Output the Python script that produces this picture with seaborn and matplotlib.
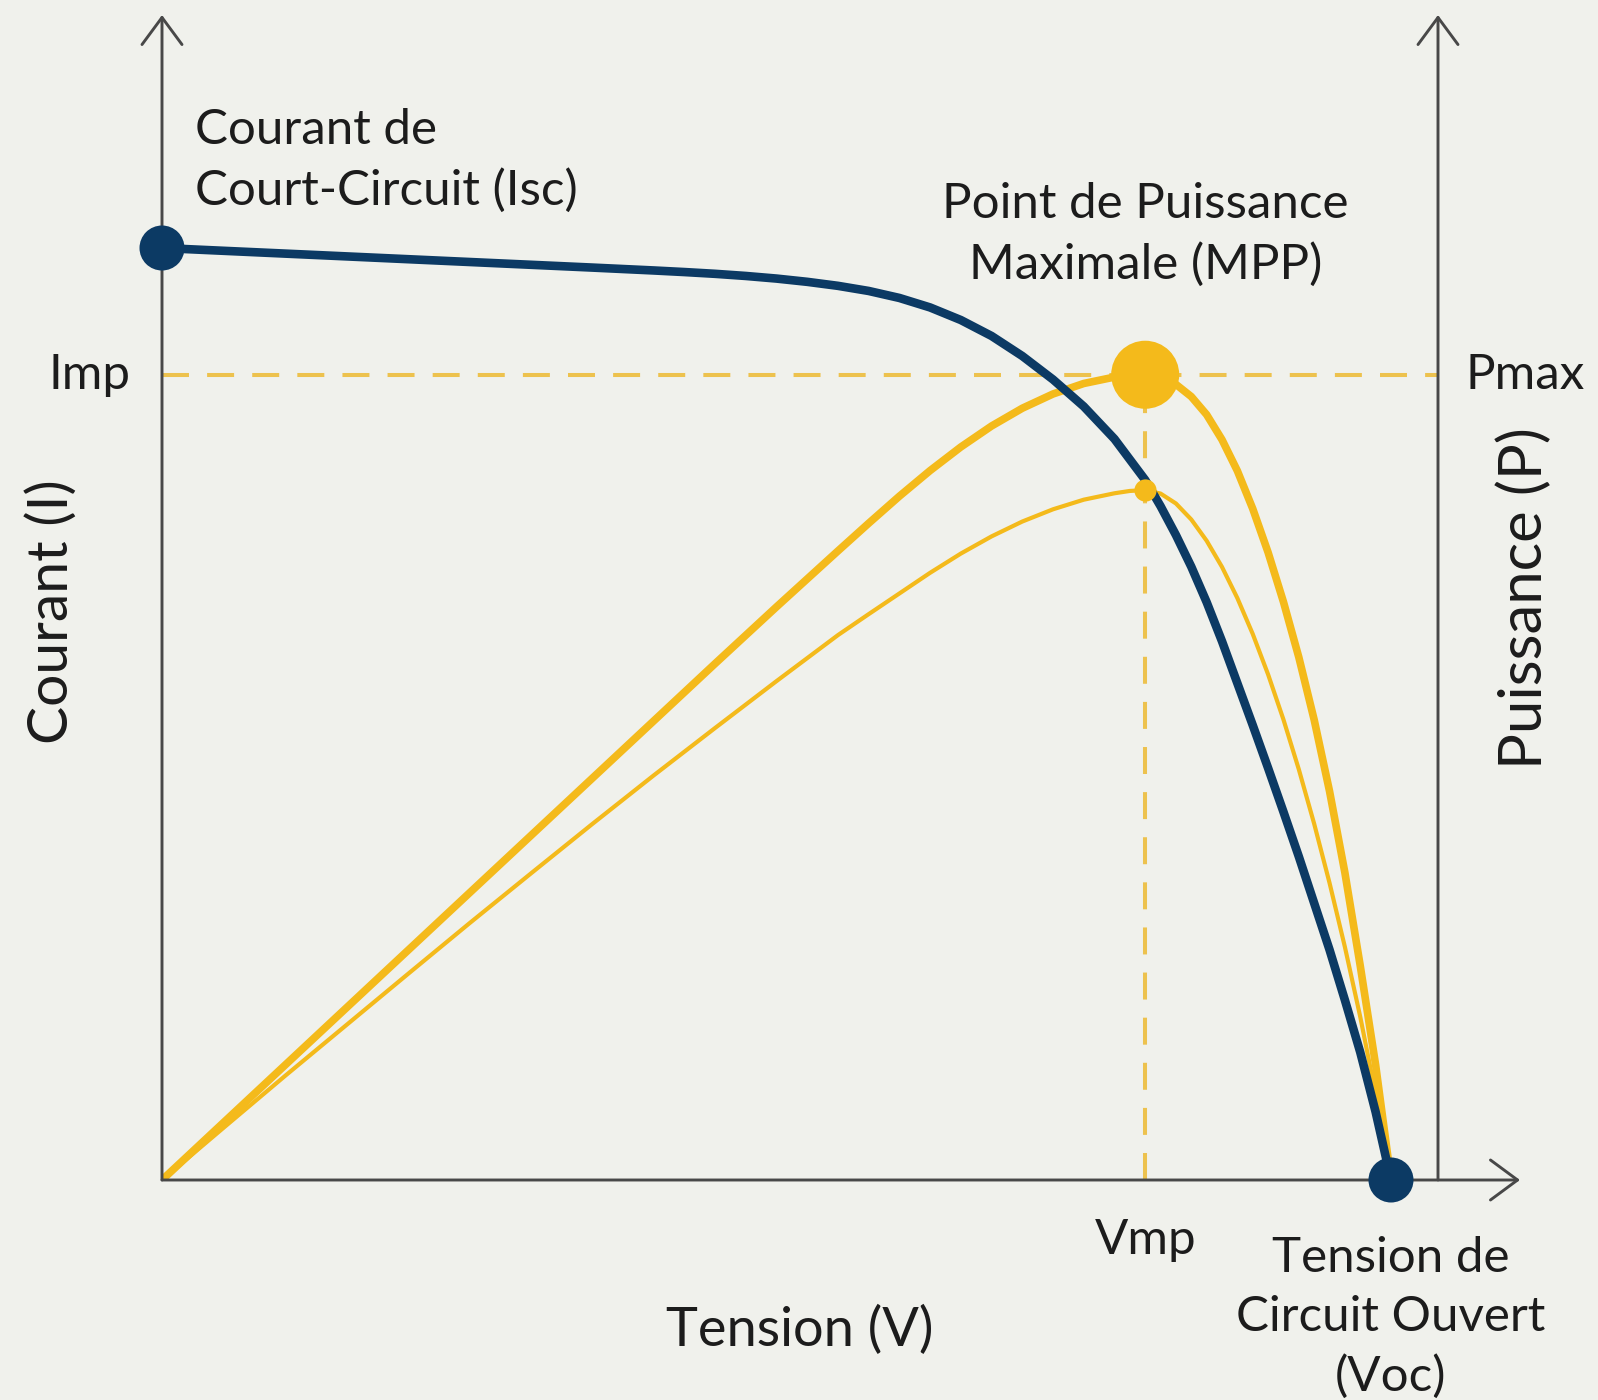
import numpy as np
import pandas as pd
import matplotlib
matplotlib.use("Agg")
import matplotlib.pyplot as plt
import seaborn as sns

# ---------------- data ----------------
# I-V curve (tension in V, courant in A)
tension_iv = [0, 2, 4, 6, 8, 10, 12, 14, 16, 17, 18, 19, 20, 21, 22, 23, 24, 25,
              26, 27, 28, 29, 30, 31, 32, 32.5, 33, 33.5, 34, 34.5, 35, 35.5, 36,
              36.5, 37, 37.5, 38, 38.5, 39, 39.5, 40]
courant_iv = [10.000, 9.970, 9.940, 9.910, 9.880, 9.850, 9.820, 9.790, 9.759,
              9.742, 9.723, 9.700, 9.672, 9.637, 9.594, 9.539, 9.464, 9.362,
              9.227, 9.056, 8.841, 8.589, 8.300, 7.951, 7.511, 7.230, 6.920,
              6.580, 6.200, 5.780, 5.330, 4.880, 4.420, 3.950, 3.470, 2.970,
              2.470, 1.930, 1.370, 0.730, 0.000]

# P-V curve, main (thick), puissance in W
tension_p = [0, 2, 4, 6, 8, 10, 12, 14, 16, 18, 20, 22, 23, 24, 25, 26, 27, 28,
             29, 30, 31, 31.5, 32, 32.5, 33, 33.5, 34, 34.5, 35, 35.5, 36, 36.5,
             37, 37.5, 38, 38.5, 39, 39.5, 40]
puissance_p = [0.0, 19.7, 39.4, 59.1, 78.8, 98.5, 118.2, 137.9, 157.6, 177.3,
               196.8, 216.0, 225.5, 234.8, 243.6, 251.7, 258.9, 265.0, 269.9,
               273.5, 275.7, 276.3, 276.5, 275.6, 273.2, 269.0, 262.8, 254.2,
               243.5, 230.5, 215.5, 198.5, 179.5, 158.0, 133.5, 105.5, 73.5,
               39.5, 0.0]

# P-V curve, secondary (thin)
tension_p2 = [0, 2, 4, 6, 8, 10, 12, 14, 16, 18, 20, 22, 23, 24, 25, 26, 27, 28,
              29, 30, 31, 31.5, 32, 32.5, 33, 33.5, 34, 34.5, 35, 35.5, 36, 36.5,
              37, 37.5, 38, 38.5, 39, 39.5, 40]
puissance_p2 = [0.0, 17.9, 35.7, 53.2, 70.7, 88.1, 105.2, 122.2, 138.9, 155.2,
                171.3, 187.1, 194.3, 201.4, 208.5, 215.1, 221.0, 226.1, 230.3,
                233.6, 235.8, 236.6, 236.9, 235.7, 232.3, 226.8, 219.5, 210.5,
                199.8, 187.5, 173.6, 158.1, 141.0, 122.3, 102.0, 80.0, 56.0,
                29.5, 0.0]

Isc = 10.0
Voc = 40.0
Vmp = 32.0
Imp = 8.64
Pmax = 276.5
P2_peak = 236.9

courant_max_axe = 12.5
tension_max_axe = 41.53

# ---------------- style ----------------
BG = "#F0F1EC"
NAVY = "#0C3A64"
YELLOW = "#F4BA1B"
YELLOW_DASH = "#EDC24E"
AXIS = "#484848"
TXT = "#1C1C1C"

sns.set_theme(style="white")
plt.rcParams["font.family"] = ["Lato", "DejaVu Sans"]

W, H = 1598, 1400
fig = plt.figure(figsize=(W / 100, H / 100), dpi=100, facecolor=BG)
left, right, bottom, top = 162, 1438, 1180, 15
ax2 = fig.add_axes([left / W, 1 - bottom / H, (right - left) / W, (bottom - top) / H])
ax = ax2.twinx()
ax.set_zorder(ax2.get_zorder() + 1)
ax.patch.set_visible(False)
ax2.set_facecolor(BG)

ax.set_xlim(0, tension_max_axe)
ax2.set_xlim(0, tension_max_axe)
ax.set_ylim(0, courant_max_axe)
ax2.set_ylim(0, courant_max_axe * Pmax / Imp)

for a in (ax, ax2):
    for s in a.spines.values():
        s.set_visible(False)
    a.set_xticks([])
    a.set_yticks([])
    a.grid(False)

# dashed guide lines (power axis)
ax2.plot([0, tension_max_axe], [Pmax, Pmax], ls=(0, (6.7, 4.5)), lw=2.9,
         color=YELLOW_DASH, zorder=1)
ax2.plot([Vmp, Vmp], [0, Pmax], ls=(0, (6.7, 4.5)), lw=2.9,
         color=YELLOW_DASH, zorder=1)

# power curves
df_p = pd.DataFrame({"V": tension_p, "P": puissance_p})
df_p2 = pd.DataFrame({"V": tension_p2, "P": puissance_p2})
sns.lineplot(data=df_p2, x="V", y="P", ax=ax2, color=YELLOW, lw=3.0,
             sort=False, estimator=None, zorder=3, solid_joinstyle="round")
sns.lineplot(data=df_p, x="V", y="P", ax=ax2, color=YELLOW, lw=5.5,
             sort=False, estimator=None, zorder=4, solid_joinstyle="round")

# I-V curve
df_iv = pd.DataFrame({"V": tension_iv, "I": courant_iv})
sns.lineplot(data=df_iv, x="V", y="I", ax=ax, color=NAVY, lw=6.2,
             sort=False, estimator=None, zorder=3, solid_joinstyle="round")

# small point on the thin power curve (drawn above the blue line)
ax.plot([Vmp], [P2_peak], "o", ms=16, color=YELLOW, mec="none",
        transform=ax2.transData, zorder=6)

# key points
sns.scatterplot(x=[0.0, Voc], y=[Isc, 0.0], ax=ax, s=1050, color=NAVY,
                edgecolor="none", zorder=7, clip_on=False, legend=False)
sns.scatterplot(x=[Vmp], y=[Imp], ax=ax, s=2400, color=YELLOW,
                edgecolor="none", zorder=7, clip_on=False, legend=False)

for a in (ax, ax2):
    a.set_xlabel("")
    a.set_ylabel("")

# axes drawn as arrows
arr = dict(arrowstyle="->,head_length=0.65,head_width=0.48", lw=2.1,
           color=AXIS, shrinkA=0, shrinkB=0, mutation_scale=30)
ax.annotate("", xy=(0, 1), xytext=(0, 0), xycoords="axes fraction",
            arrowprops=arr, zorder=2)
ax.annotate("", xy=(1, 1), xytext=(1, 0), xycoords="axes fraction",
            arrowprops=arr, zorder=2)
ax.annotate("", xy=((1520 - left) / (right - left), 0), xytext=(0, 0),
            xycoords="axes fraction", arrowprops=arr, zorder=2)

# texts
FS = 35.5
LS = 1.42
ax.annotate("Courant de\nCourt-Circuit (Isc)", xy=(0, Isc), xytext=(24, 63),
            textcoords="offset points", ha="left", va="center", fontsize=FS,
            color=TXT, linespacing=LS)
ax.annotate("Point de Puissance\nMaximale (MPP)", xy=(Vmp, Imp), xytext=(0, 101),
            textcoords="offset points", ha="center", va="center", fontsize=FS,
            color=TXT, linespacing=LS, multialignment="center")
ax.annotate("Imp", xy=(0, Imp), xytext=(-23, 0), textcoords="offset points",
            ha="right", va="center", fontsize=FS, color=TXT)
ax.annotate("Pmax", xy=(1, Imp), xycoords=("axes fraction", "data"),
            xytext=(20, 0), textcoords="offset points", ha="left", va="center",
            fontsize=FS, color=TXT)
ax.annotate("Vmp", xy=(Vmp, 0), xytext=(0, -43), textcoords="offset points",
            ha="center", va="center", fontsize=FS, color=TXT)
ax.annotate("Tension de\nCircuit Ouvert\n(Voc)", xy=(Voc, 0), xytext=(0, -99),
            textcoords="offset points", ha="center", va="center", fontsize=FS,
            color=TXT, linespacing=1.42, multialignment="center")

fig.text(800 / W, 1 - 1330 / H, "Tension (V)", ha="center", va="center",
         fontsize=39, color=TXT)
fig.text(52 / W, 1 - 612 / H, "Courant (I)", ha="center", va="center",
         rotation=90, fontsize=41, color=TXT)
fig.text(1524 / W, 1 - 598 / H, "Puissance (P)", ha="center", va="center",
         rotation=90, fontsize=43, color=TXT)

fig.savefig("out.png", dpi=100, facecolor=BG)
